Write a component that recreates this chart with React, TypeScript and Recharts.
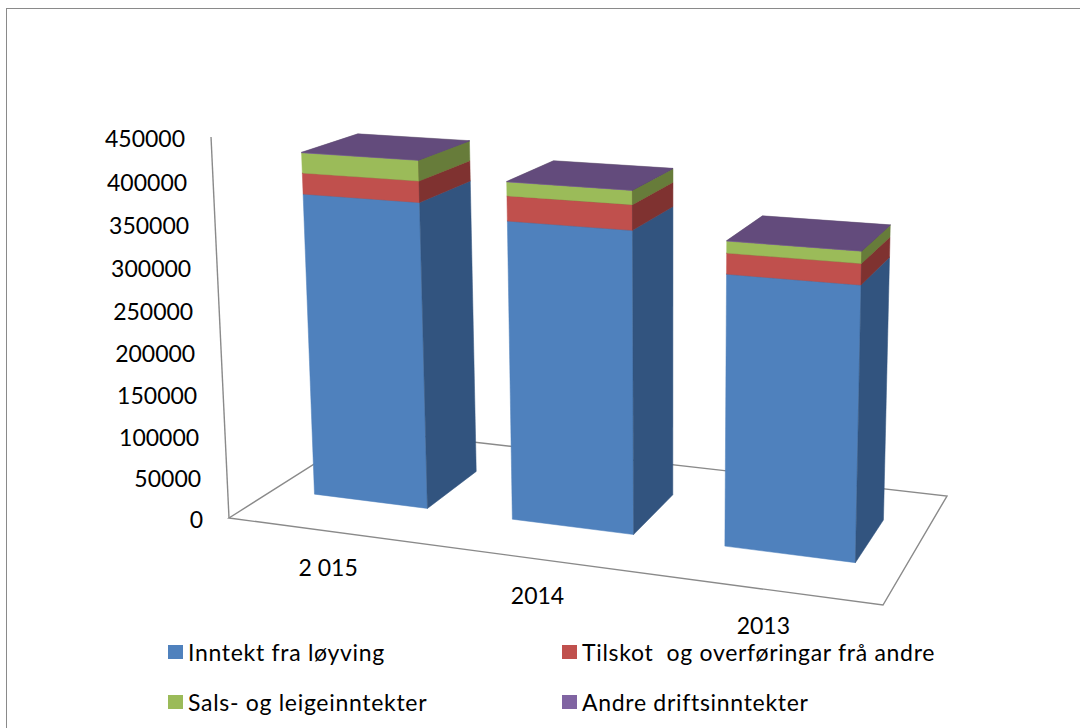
import React from 'react';
import { BarChart, Bar, XAxis, YAxis, Legend } from 'recharts';

// ---------- data ----------
const categories = ['2 015', '2014', '2013'];
const inntektFraLoyving = [369000, 355000, 314000];
const tilskotOgOverforingar = [25000, 29000, 23500];
const salsOgLeigeinntekter = [24000, 16000, 13500];
const andreDriftsinntekter = [500, 500, 500];
const yTicks = [0, 50000, 100000, 150000, 200000, 250000, 300000, 350000, 400000, 450000];
const seriesNames = [
  'Inntekt fra løyving',
  'Tilskot  og overføringar frå andre',
  'Sals- og leigeinntekter',
  'Andre driftsinntekter',
];
const seriesKeys = ['loyving', 'tilskot', 'sals', 'andre'];

const data = categories.map((c, i) => ({
  year: c,
  loyving: inntektFraLoyving[i],
  tilskot: tilskotOgOverforingar[i],
  sals: salsOgLeigeinntekter[i],
  andre: andreDriftsinntekter[i],
}));

// ---------- styles ----------
const FONT = 'Lato, "Open Sans", sans-serif';
const FONT_SIZE = 23;
const seriesColors = [
  { front: '#4F81BD', side: '#32547F', top: '#3F6797' },
  { front: '#C0504D', side: '#7F3230', top: '#9A3F3D' },
  { front: '#9BBB59', side: '#677C3A', top: '#7D974A' },
  { front: '#8064A2', side: '#55436C', top: '#634B7C' },
];
const FRAME_COLOR = '#8a8a8a';

// ---------- layout of the flat chart ----------
const W = 1080;
const H = 728;
const MARGIN = { top: 140, right: 150, bottom: 140, left: 150 };
const Y_AXIS_W = 50;
const X_AXIS_H = 30;
const PL = MARGIN.left + Y_AXIS_W;
const PR = W - MARGIN.right;
const PT = MARGIN.top;
const PB = H - MARGIN.bottom - X_AXIS_H;
const PW = PR - PL;
const PH = PB - PT;

// ---------- perspective camera (floor corners + vertical vanishing) ----------
const FL = [229, 518];
const FR = [883, 605];
const BR = [947, 496];
const BL = [368, 430];
const AXIS_TOP_Y = 137;
const VP = [668, 9817];
const Z_FRONT = 0.3;
const Z_BACK = 0.7;

const cam = (() => {
  const [x0, y0] = FL;
  const [x1, y1] = FR;
  const [x2, y2] = BR;
  const [x3, y3] = BL;
  const dx1 = x1 - x2, dx2 = x3 - x2, dx3 = x0 - x1 + x2 - x3;
  const dy1 = y1 - y2, dy2 = y3 - y2, dy3 = y0 - y1 + y2 - y3;
  const den = dx1 * dy2 - dx2 * dy1;
  const g = (dx3 * dy2 - dx2 * dy3) / den;
  const h = (dx1 * dy3 - dx3 * dy1) / den;
  const a = x1 - x0 + g * x1;
  const b = x3 - x0 + h * x3;
  const c = x0;
  const d = y1 - y0 + g * y1;
  const e = y3 - y0 + h * y3;
  const f = y0;
  const r = (AXIS_TOP_Y - f) / (VP[1] - AXIS_TOP_Y);
  const p = VP[0] * r;
  const q = VP[1] * r;
  return { a, b, c, d, e, f, g, h, p, q, r };
})();

function project(X: number, Y: number, Z: number): [number, number] {
  const { a, b, c, d, e, f, g, h, p, q, r } = cam;
  const w = g * X + h * Z + 1 + r * Y;
  return [(a * X + b * Z + c + p * Y) / w, (d * X + e * Z + f + q * Y) / w];
}

const pts = (arr: [number, number][]) => arr.map((pt) => `${pt[0].toFixed(2)},${pt[1].toFixed(2)}`).join(' ');

function Floor() {
  const fl = project(0, 0, 0);
  const fr = project(1, 0, 0);
  const br = project(1, 0, 1);
  const bl = project(0, 0, 1);
  const top = project(0, 1, 0);
  return (
    <g>
      <polygon points={pts([fl, fr, br, bl])} fill="none" stroke={FRAME_COLOR} strokeWidth={1.4} />
      <line x1={fl[0]} y1={fl[1]} x2={top[0]} y2={top[1]} stroke={FRAME_COLOR} strokeWidth={1.4} />
    </g>
  );
}

const makeShape = (si: number) => (props: any) => {
  const { x, y, width, height, index } = props;
  if (x == null || y == null || width == null || height == null) return <g />;
  const col = seriesColors[si];
  const X0 = (x - PL) / PW;
  const X1 = (x + width - PL) / PW;
  const Yt = (PB - y) / PH;
  const Yb = (PB - (y + height)) / PH;
  const fbl = project(X0, Yb, Z_FRONT);
  const fbr = project(X1, Yb, Z_FRONT);
  const ftr = project(X1, Yt, Z_FRONT);
  const ftl = project(X0, Yt, Z_FRONT);
  const bbr = project(X1, Yb, Z_BACK);
  const btr = project(X1, Yt, Z_BACK);
  const btl = project(X0, Yt, Z_BACK);
  return (
    <g>
      {si === 0 && index === 0 ? <Floor /> : null}
      <polygon points={pts([fbl, fbr, ftr, ftl])} fill={col.front} stroke={col.front} strokeWidth={0.5} strokeLinejoin="round" />
      <polygon points={pts([fbr, bbr, btr, ftr])} fill={col.side} stroke={col.side} strokeWidth={0.5} strokeLinejoin="round" />
      <polygon points={pts([ftl, ftr, btr, btl])} fill={col.top} stroke={col.top} strokeWidth={0.5} strokeLinejoin="round" />
    </g>
  );
};

const CatTick = (props: any) => {
  const { x, payload } = props;
  const X = (x - PL) / PW;
  const [sx, sy] = project(X, 0, 0);
  return (
    <text x={sx} y={sy + 36} textAnchor="middle" dominantBaseline="central" fontFamily={FONT} fontSize={FONT_SIZE} fill="#000">
      {payload.value}
    </text>
  );
};

const ValTick = (props: any) => {
  const { y, payload } = props;
  const Y = (PB - y) / PH;
  const [sx, sy] = project(0, Y, 0);
  return (
    <text x={sx - 26} y={sy + 1} textAnchor="end" dominantBaseline="central" fontFamily={FONT} fontSize={FONT_SIZE} fill="#000">
      {String(payload.value)}
    </text>
  );
};

const renderLegend = (props: any) => {
  const payload = [...(props.payload || [])].sort(
    (p1: any, p2: any) => seriesNames.indexOf(p1.value) - seriesNames.indexOf(p2.value)
  );
  return (
    <div style={{ display: 'grid', gridTemplateColumns: '394px 430px', gridAutoRows: '50px', fontFamily: FONT, fontSize: FONT_SIZE, lineHeight: 1, color: '#000', letterSpacing: '0.7px' }}>
      {payload.map((item: any, i: number) => (
        <div key={i} style={{ display: 'flex', alignItems: 'center', whiteSpace: 'pre' }}>
          <span style={{ display: 'inline-block', width: 15, height: 14, background: item.color, marginRight: 5 }} />
          <span style={{ lineHeight: 1 }}>{item.value}</span>
        </div>
      ))}
    </div>
  );
};

export default function App() {
  return (
    <div style={{ position: 'absolute', left: 0, top: 0, width: W, height: H, overflow: 'hidden', background: '#fff' }}>
      <div style={{ position: 'absolute', left: 6, top: 8, width: W + 20, height: H + 20, border: `1.5px solid ${FRAME_COLOR}`, boxSizing: 'border-box' }} />
      <div style={{ position: 'absolute', left: 0, top: 0 }}>
        <BarChart width={W} height={H} data={data} margin={MARGIN} barCategoryGap="21%">
          <XAxis dataKey="year" height={X_AXIS_H} axisLine={false} tickLine={false} interval={0} tick={CatTick} />
          <YAxis width={Y_AXIS_W} domain={[0, 450000]} ticks={yTicks} axisLine={false} tickLine={false} tick={ValTick} interval={0} />
          <Legend
            layout="horizontal"
            verticalAlign="middle"
            align="center"
            itemSorter={null as any}
            content={renderLegend}
            wrapperStyle={{ left: 168, top: 627, width: 840, height: 100 }}
          />
          {seriesKeys.map((k, si) => (
            <Bar
              key={k}
              dataKey={k}
              name={seriesNames[si]}
              stackId="a"
              fill={seriesColors[si].front}
              isAnimationActive={false}
              shape={makeShape(si)}
            />
          ))}
        </BarChart>
      </div>
    </div>
  );
}
